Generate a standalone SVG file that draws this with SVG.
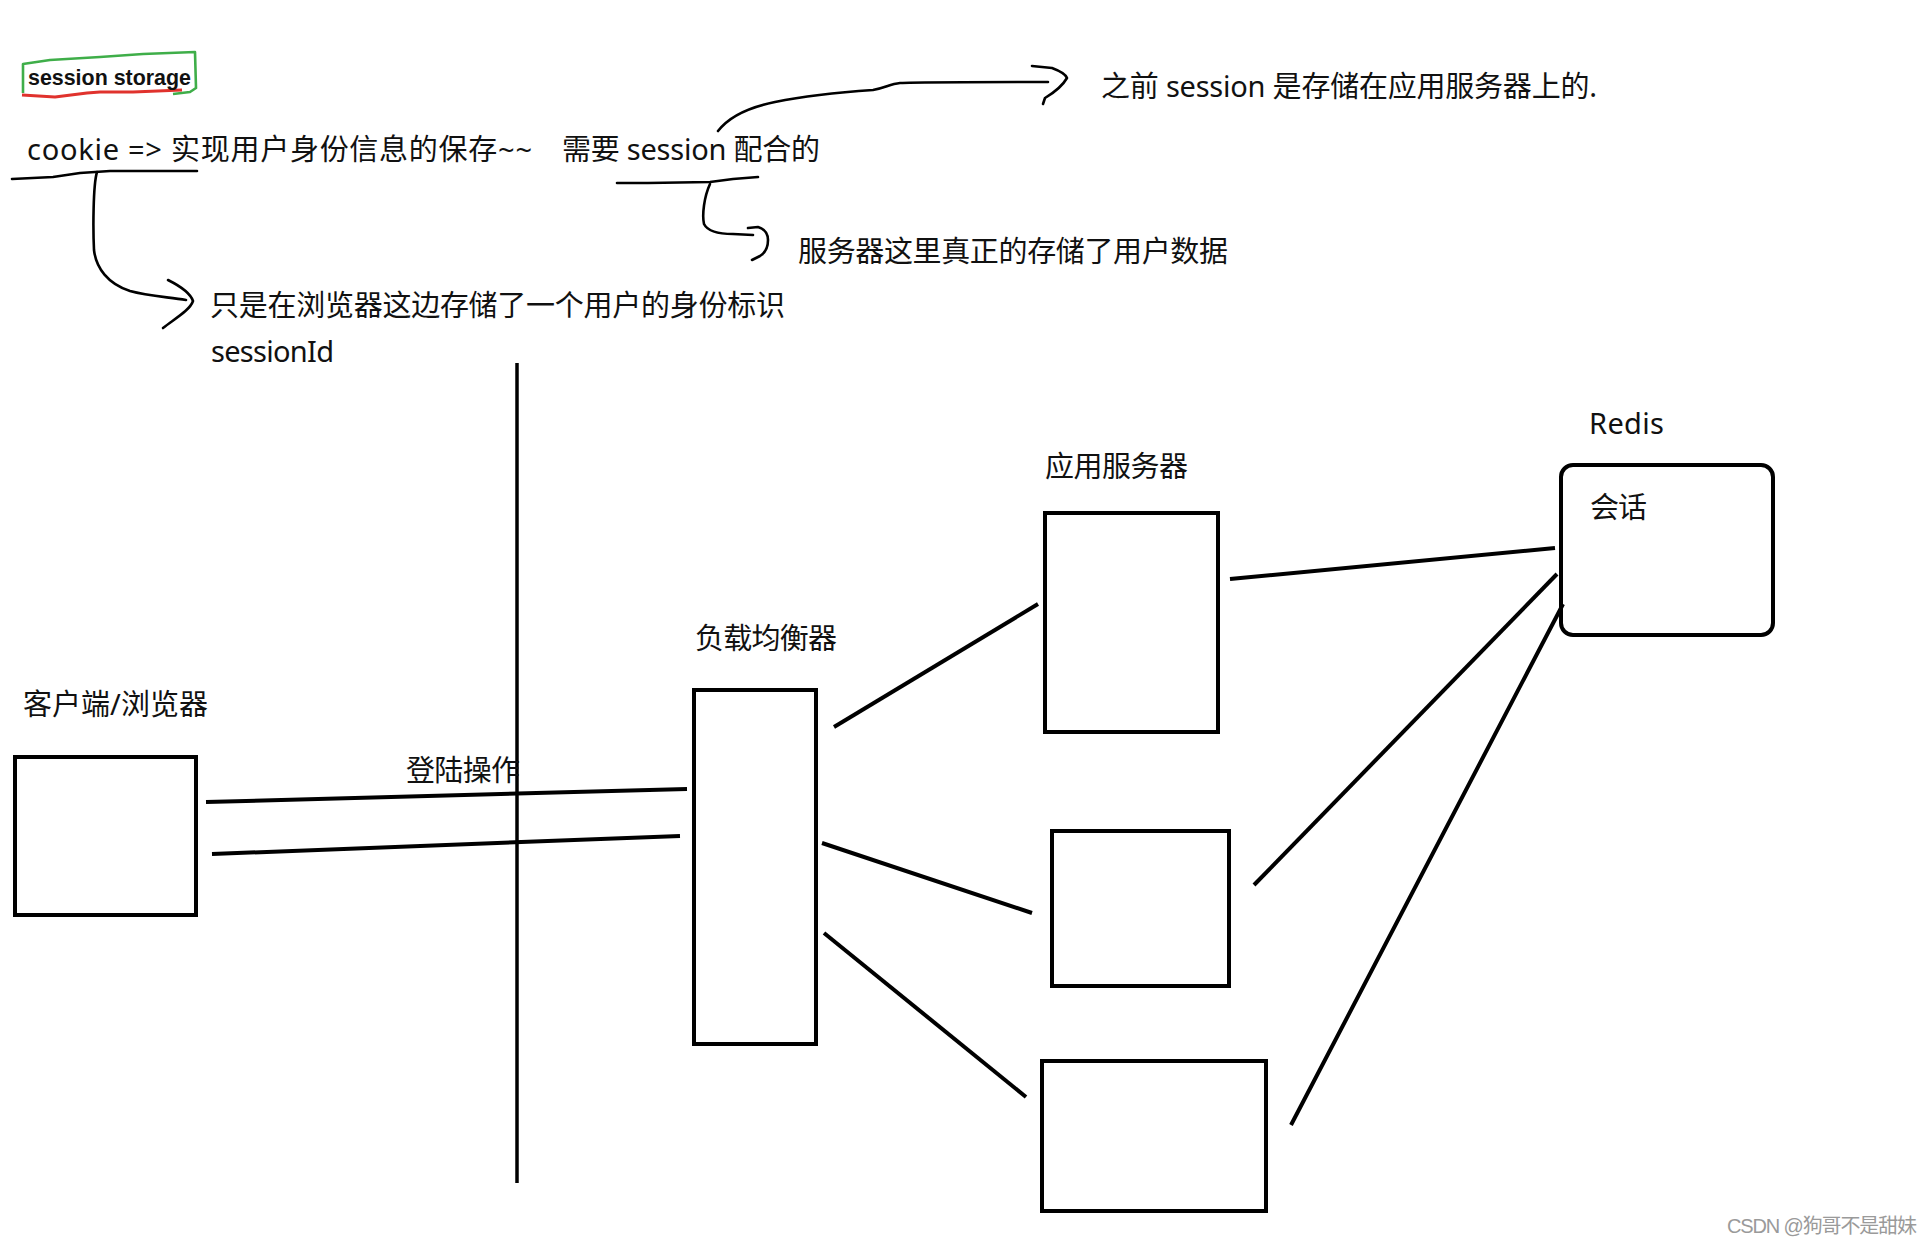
<svg xmlns="http://www.w3.org/2000/svg" width="1932" height="1244" viewBox="0 0 1932 1244">
<style>
.t{font-family:"Noto Sans","Noto Sans CJK SC",sans-serif;font-size:29px;fill:#111}
.box{fill:none;stroke:#000;stroke-width:4}
.ln{fill:none;stroke:#000;stroke-width:4}
.hd{fill:none;stroke:#000;stroke-width:2.6;stroke-linejoin:round;stroke-linecap:round}
</style>
<rect width="1932" height="1244" fill="#fff"/>

<g id="notes">
  <path d="M23,93 L23,64 L50,60 L100,57 L143,54 L195,52 L196,88 L190,92 L173,94" fill="none" stroke="#3fae49" stroke-width="2.6" stroke-linejoin="round"/>
  <path d="M22,95 L55,97 L87,93 L100,92 L133,92 L182,90" fill="none" stroke="#e0322d" stroke-width="2.8" stroke-linejoin="round"/>
  <text x="28" y="85" font-family="'Liberation Sans',sans-serif" font-size="22" font-weight="700" fill="#111" textLength="163" lengthAdjust="spacingAndGlyphs">session storage</text>
  <text class="t" x="27" y="160" textLength="505" lengthAdjust="spacing">cookie =&gt; 实现用户身份信息的保存~~</text>
  <text class="t" x="562" y="160" textLength="258" lengthAdjust="spacing">需要 session 配合的</text>
  <text class="t" x="1101" y="97" textLength="496" lengthAdjust="spacing">之前 session 是存储在应用服务器上的.</text>
  <text class="t" x="798" y="262" textLength="430" lengthAdjust="spacing">服务器这里真正的存储了用户数据</text>
  <text class="t" x="210" y="316" textLength="575" lengthAdjust="spacing">只是在浏览器这边存储了一个用户的身份标识</text>
  <text class="t" x="211" y="362" textLength="123" lengthAdjust="spacing">sessionId</text>
  <path class="hd" d="M12,179 L53,177 L80,173 L110,171 L197,171"/>
  <path class="hd" d="M97,172 C93,185 93,230 94,250 C96,268 108,284 130,291 C148,296 168,297 186,300"/>
  <path class="hd" d="M168,280 C178,285 190,292 193,301 C190,310 176,318 163,328"/>
  <path class="hd" d="M617,183 L648,183 L710,182 L733,179 L758,177"/>
  <path class="hd" d="M710,184 C704,197 702,215 704,224 C708,232 720,234 733,234 L753,235"/>
  <path class="hd" d="M748,228 L758,227 C765,229 768,233 768,240 C768,248 765,253 760,256 L752,260"/>
  <path class="hd" d="M718,131 C728,118 745,108 775,102 C800,97 830,93 873,90 C885,88 890,84 900,83 C920,82 950,82 1048,82"/>
  <path class="hd" d="M1032,66 L1052,68 C1060,71 1066,75 1067,78 C1063,85 1055,92 1045,98 L1043,104"/>
</g>

<g id="divider">
  <line x1="517" y1="363" x2="517" y2="1183" stroke="#000" stroke-width="3.5"/>
</g>

<g id="client">
  <rect class="box" x="15" y="757" width="181" height="158"/>
  <text class="t" x="23" y="715" textLength="185" lengthAdjust="spacing">客户端/浏览器</text>
</g>

<g id="loadbalancer">
  <rect class="box" x="694" y="690" width="122" height="354"/>
  <text class="t" x="695" y="649" textLength="142" lengthAdjust="spacing">负载均衡器</text>
</g>

<g id="server1">
  <rect class="box" x="1045" y="513" width="173" height="219"/>
  <text class="t" x="1045" y="477" textLength="143" lengthAdjust="spacing">应用服务器</text>
</g>
<g id="server2">
  <rect class="box" x="1052" y="831" width="177" height="155"/>
</g>
<g id="server3">
  <rect class="box" x="1042" y="1061" width="224" height="150"/>
</g>

<g id="redis">
  <rect class="box" x="1561" y="465" width="212" height="170" rx="12"/>
  <text class="t" x="1589" y="434" textLength="75" lengthAdjust="spacing">Redis</text>
  <text class="t" x="1590" y="518" textLength="57" lengthAdjust="spacing">会话</text>
</g>

<g id="connectors">
  <line class="ln" x1="206" y1="802" x2="687" y2="789"/>
  <line class="ln" x1="212" y1="854" x2="680" y2="836"/>
  <text class="t" x="406" y="781" textLength="114" lengthAdjust="spacing">登陆操作</text>
  <line class="ln" x1="834" y1="727" x2="1038" y2="604"/>
  <line class="ln" x1="822" y1="843" x2="1032" y2="913"/>
  <line class="ln" x1="824" y1="933" x2="1026" y2="1097"/>
  <line class="ln" x1="1230" y1="579" x2="1555" y2="548"/>
  <line class="ln" x1="1254" y1="885" x2="1557" y2="574"/>
  <path class="ln" d="M1291,1125 L1561,608 L1563,604"/>
</g>

<text x="1917" y="1233" text-anchor="end" font-family="'Liberation Sans','Noto Sans CJK SC',sans-serif" font-size="20" fill="#9a9a9a" textLength="190" lengthAdjust="spacing">CSDN @狗哥不是甜妹</text>
</svg>
